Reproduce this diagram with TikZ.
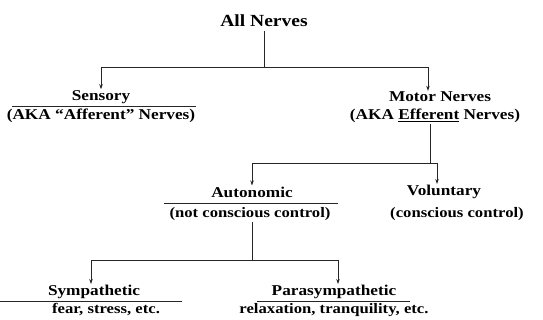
\documentclass[tikz,border=0pt]{standalone}
\usepackage{fontspec}
\setmainfont{Liberation Serif}[FakeStretch=1.15]
\usetikzlibrary{arrows.meta}

\begin{document}
\begin{tikzpicture}[x=1pt,y=-1pt,
	head/.style={font=\bfseries\fontsize{15}{17}\selectfont, inner sep=1pt},
	note/.style={font=\bfseries\fontsize{14.5}{16}\selectfont, inner sep=1pt},
	branch/.style={draw=black!85, line width=0.7pt},
	tip/.style={branch, -{Stealth[length=5pt,width=3.5pt]}}]
	\useasboundingbox (0,0) rectangle (543,320);
	
	
	
	% top
	\node[font=\bfseries\fontsize{17}{19}\selectfont] (all) at (264,21) {All Nerves};
	
	
	
	% sensory and motor
	\node[head] (sens) at (101,97) {Sensory};
	\node[head] (sensaka) at (101,116) {(AKA ``Afferent'' Nerves)};
	\draw[branch] (12,106) -- (196,106);
	
	\node[head] (motor) at (440,97) {Motor Nerves};
	\node[head] (motoraka) at (435,116) {(AKA \underline{Efferent} Nerves)};
	
	\coordinate (allbus) at (264,67);
	\draw[branch] (all.south) -- (allbus);
	\draw[tip] (allbus) -| (sens.north);
	\draw[tip] (allbus) -| ([xshift=-12pt]motor.north);
	
	
	
	% autonomic and voluntary
	\node[head] (auto) at (252,192) {Autonomic};
	\node[note] (autonote) at (250,214) {(not conscious control)};
	\draw[branch] (164,203) -- (338,203);
	
	\node[head] (vol) at (444,192) {Voluntary};
	\node[note] (volnote) at (457,214) {(conscious control)};
	
	\coordinate (motorbus) at (430,163);
	\draw[branch] (motorbus |- motoraka.south) -- (motorbus);
	\draw[tip] (motorbus) -| (auto.north);
	\draw[tip] (motorbus) -| ([xshift=-7pt]vol.north);
	
	
	
	% sympathetic and parasympathetic
	\node[head] (symp) at (94,292) {Sympathetic};
	\node[note] (sympnote) at (106,310) {fear, stress, etc.};
	\draw[branch] (0,301) -- (182,301);
	
	\node[head] (para) at (334,292) {Parasympathetic};
	\node[note] (paranote) at (334,310) {relaxation, tranquility, etc.};
	\draw[branch] (257,301) -- (410,301);
	
	\coordinate (autobus) at (252,260);
	\draw[branch] (autobus |- autonote.south) -- (autobus);
	\draw[tip] (autobus) -| ([xshift=-3pt]symp.north);
	\draw[tip] (autobus) -| ([xshift=4pt]para.north);
	
\end{tikzpicture}
\end{document}
